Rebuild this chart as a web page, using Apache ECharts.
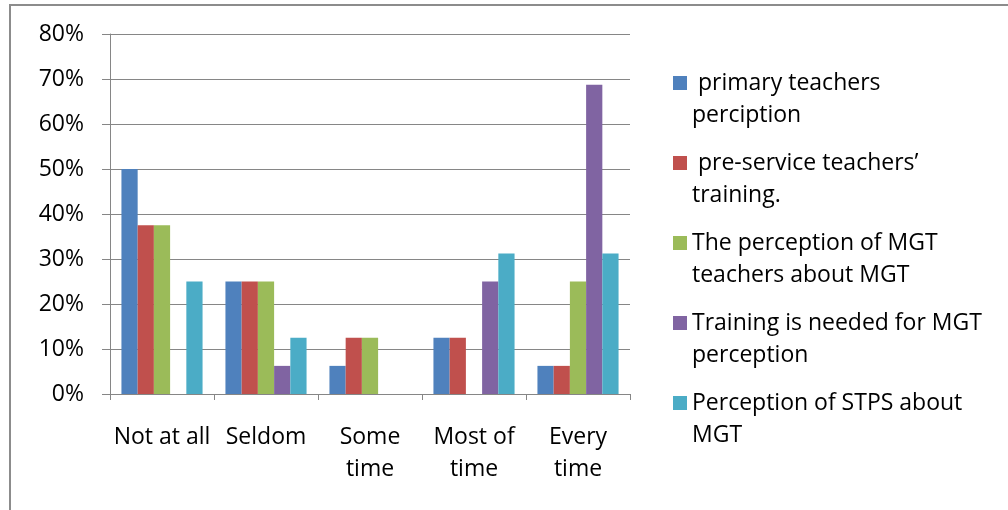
<!DOCTYPE html>
<html><head><meta charset="utf-8">
<script src="https://cdn.jsdelivr.net/npm/echarts@6/dist/echarts.min.js"></script>
<style>html,body{margin:0;padding:0;background:#fff}#c{width:1008px;height:510px}</style>
</head><body><div id="c"></div>
<script>
const categories = ['Not at all', 'Seldom', 'Some\ntime', 'Most of\ntime', 'Every\ntime'];
const seriesNames = [
  ' primary teachers perciption',
  ' pre-service teachers\u2019 training.',
  'The perception of MGT teachers about MGT',
  'Training is needed for MGT perception',
  'Perception of STPS about MGT'
];
const legendLabels = [
  ' primary teachers\nperciption',
  ' pre-service teachers\u2019\ntraining.',
  'The perception of MGT\nteachers about MGT',
  'Training is needed for MGT\nperception',
  'Perception of STPS about\nMGT'
];
const primaryTeachers = [50, 25, 6.25, 12.5, 6.25];
const preService = [37.5, 25, 12.5, 12.5, 6.25];
const mgtTeachers = [37.5, 25, 12.5, 0, 25];
const trainingNeeded = [0, 6.25, 0, 25, 68.75];
const stps = [25, 12.5, 0, 31.25, 31.25];
const yTicks = [0, 10, 20, 30, 40, 50, 60, 70, 80];
const colors = ['#4F81BD', '#C0504D', '#9BBB59', '#8064A2', '#4BACC6'];
const values = [primaryTeachers, preService, mgtTeachers, trainingNeeded, stps];

const FONT = 'Open Sans';
const FS = 23;
const chart = echarts.init(document.getElementById('c'), null, {renderer: 'canvas'});
const legends = seriesNames.map((n, i) => ({
  data: [n],
  orient: 'vertical',
  left: 673,
  top: 83 + i * 80 - 48,
  padding: 0,
  itemWidth: 14,
  itemHeight: 14,
  itemGap: 0,
  icon: 'rect',
  selectedMode: false,
  formatter: () => '\n' + legendLabels[i],
  textStyle: {fontFamily: FONT, fontSize: FS, color: '#000', lineHeight: 32}
}));
chart.setOption({
  animation: false,
  color: colors,
  textStyle: {fontFamily: FONT},
  graphic: [{
    type: 'rect', shape: {x: 10, y: 5, width: 1200, height: 600},
    style: {fill: 'none', stroke: '#8c8c8c', lineWidth: 2}, silent: true
  }],
  legend: legends,
  grid: {left: 110, right: 378, top: 34, bottom: 116},
  xAxis: {
    type: 'category',
    data: categories,
    axisLine: {lineStyle: {color: '#868686', width: 1}},
    axisTick: {show: true, length: 6, lineStyle: {color: '#868686'}},
    axisLabel: {fontFamily: FONT, fontSize: FS, color: '#000', lineHeight: 32, margin: 27, interval: 0}
  },
  yAxis: {
    type: 'value', min: 0, max: 80, interval: 10,
    axisLine: {show: true, lineStyle: {color: '#868686'}},
    axisTick: {show: true, inside: false, length: 8, lineStyle: {color: '#868686'}},
    splitLine: {lineStyle: {color: '#868686', width: 1}},
    axisLabel: {fontFamily: FONT, fontSize: FS, color: '#000', margin: 26, formatter: v => v + '%'}
  },
  series: seriesNames.map((n, i) => ({
    name: n, type: 'bar', data: values[i],
    barGap: '0%', barCategoryGap: '22%',
    itemStyle: {color: colors[i]}
  }))
});
</script></body></html>
